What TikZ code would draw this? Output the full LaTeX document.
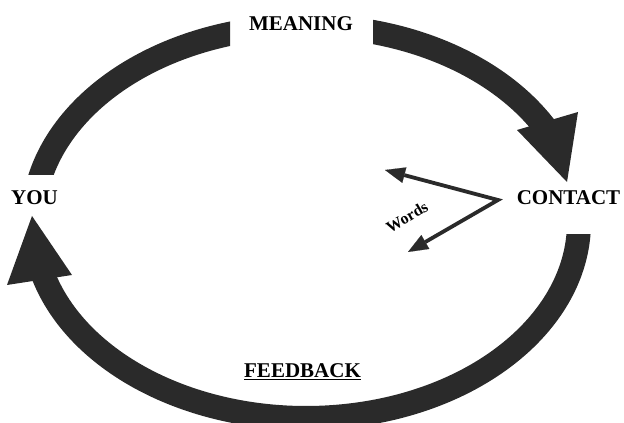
\documentclass[tikz,border=0pt]{standalone}
\usepackage{fontspec}
\setmainfont{Liberation Serif}
\usetikzlibrary{arrows.meta}
\definecolor{ring}{HTML}{2A2A2A}
\begin{document}
\begin{tikzpicture}[x=1pt,y=1pt,
  lbl/.style={font=\fontsize{21}{24}\selectfont\bfseries, anchor=base, inner sep=0pt},
  ringarc/.style={draw=ring, line width=24pt, line cap=butt},
  bighead/.style={fill=ring, draw=none},
  wordline/.style={draw=ring, line width=3.8pt, line join=miter,
    {Triangle[length=20pt,width=16pt,line width=0.1pt]}-{Triangle[length=20pt,width=16pt,line width=0.1pt]}}
]
\useasboundingbox (0,0) rectangle (624,423);
% labels
\node[lbl] (meaning) at (301,392) {MEANING};
\node[lbl] (you) at (34.5,218) {YOU};
\node[lbl] (contact) at (568.5,218) {CONTACT};
\node[lbl] (feedback) at (302.5,45) {\underline{FEEDBACK}};
% ring arcs (ellipse centre (306,201), radii 273 x 196), ends cut straight
\coordinate (a1) at ({306+273*cos(175)},{201+196*sin(175)});
\coordinate (a2) at ({306+273*cos(82)},{201+196*sin(82)});
\coordinate (a3) at ({306+273*cos(3)},{201+196*sin(3)});
\begin{scope}
  \clip (0,248) rectangle (230,423);
  \draw[ringarc] (a1) arc[start angle=175, end angle=100, x radius=273, y radius=196];
\end{scope}
\begin{scope}
  \clip (373,0) rectangle (624,423);
  \draw[ringarc] (a2) arc[start angle=82, end angle=27, x radius=273, y radius=196];
\end{scope}
\begin{scope}
  \clip (0,0) rectangle (624,188);
  \draw[ringarc] (a3) arc[start angle=3, end angle=-166, x radius=273, y radius=196];
\end{scope}
% arrowheads
\coordinate (t1a) at (517,293);
\coordinate (t1b) at (578,311);
\coordinate (t1c) at (567,241);
\fill[bighead] (t1a) -- (t1b) -- (t1c) -- cycle;
\coordinate (t2a) at (7,138);
\coordinate (t2b) at (72,148);
\coordinate (t2c) at (32,207);
\fill[bighead] (t2a) -- (t2b) -- (t2c) -- cycle;
% words arrows
\coordinate (wv) at (498,223);
\coordinate (wu) at (385,253);
\coordinate (wl) at (408,171);
\draw[wordline] (wu) -- (wv) -- (wl);
\node[font=\fontsize{16}{18}\selectfont\bfseries, rotate=30, inner sep=0pt] (words) at (407,206) {Words};
\end{tikzpicture}
\end{document}
